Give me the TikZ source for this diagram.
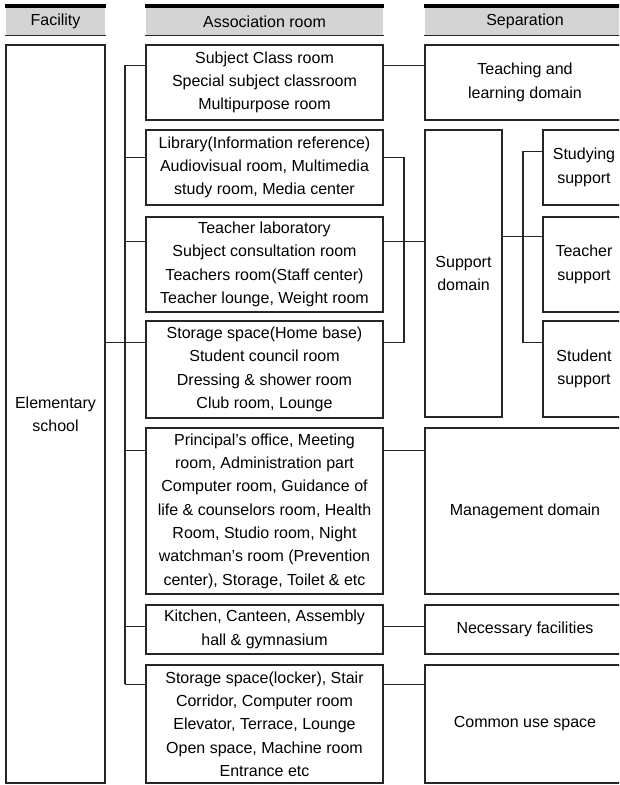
\documentclass[tikz,border=0pt]{standalone}
\usepackage{fontspec}
\setmainfont{Liberation Sans}

\begin{document}
\begin{tikzpicture}
  [x=1pt,y=-1pt,line width=1.3pt,draw=black!85,
   every node/.style={draw=black!85,align=center,inner sep=0pt,
     font=\fontsize{16}{23.3}\selectfont},
   box/.style 2 args={minimum width=#1,minimum height=#2},
   head/.style={draw=none,fill=black!17,minimum width=#1,minimum height=27}]
  \clip (0,0) rectangle (619,785);
  \fill[white] (0,0) rectangle (619,785);

  % column heads
  \node[head=99]  (h1) at (55.5,21.5)  {Facility};
  \node[head=237] (h2) at (264.5,21.5) {Association room};
  \node[head=200] (h3) at (525,21.5)   {Separation};
  \foreach \h in {h1,h2,h3} {
    \draw[line width=3.5pt,black] ([yshift=1.5pt]\h.north west) -- ([yshift=1.5pt]\h.north east);
    \draw (\h.south west) -- (\h.south east);
  }

  \node[box={99}{738}] (fac) at (55.5,414) {Elementary\\school};

  % association rooms
  \node[box={237}{75}]  (a1) at (264.5,82.5) {Subject Class room\\Special subject classroom\\Multipurpose room};
  \node[box={237}{75}]  (a2) at (264.5,167.5) {Library(Information reference)\\Audiovisual room, Multimedia\\study room, Media center};
  \node[box={237}{95}]  (a3) at (264.5,264.5) {Teacher laboratory\\Subject consultation room\\Teachers room(Staff center)\\Teacher lounge, Weight room};
  \node[box={237}{97}]  (a4) at (264.5,369.5) {Storage space(Home base)\\Student council room\\Dressing \& shower room\\Club room, Lounge};
  \node[box={237}{166}] (a5) at (264.5,511) {Principal's office, Meeting\\room, Administration part\\Computer room, Guidance of\\life \& counselors room, Health\\Room, Studio room, Night\\watchman's room (Prevention\\center), Storage, Toilet \& etc};
  \node[box={237}{49}]  (a6) at (264.5,629.5) {Kitchen, Canteen, Assembly\\hall \& gymnasium};
  \node[box={237}{118}] (a7) at (264.5,724) {Storage space(locker), Stair\\Corridor, Computer room\\Elevator, Terrace, Lounge\\Open space, Machine room\\Entrance etc};

  % separation
  \node[box={200}{75}]  (teach) at (525,82.5)  {Teaching and\\learning domain};
  \node[box={77}{287}]  (supp)  at (463.5,273.5) {Support\\domain};
  \node[box={82}{75}]   (study) at (584,167.5) {Studying\\support};
  \node[box={82}{95}]   (tsup)  at (584,264.5) {Teacher\\support};
  \node[box={82}{96}]   (ssup)  at (584,369)   {Student\\support};
  \node[box={200}{166}] (mgmt)  at (525,511)   {Management domain};
  \node[box={200}{49}]  (need)  at (525,629.5) {Necessary facilities};
  \node[box={200}{118}] (comm)  at (525,724)   {Common use space};

  % connectors
  \foreach \n/\d in {1/21,2/28,3/25,4/22,5/23,6/22,7/20}
    \coordinate (p\n) at ([yshift=-\d pt]a\n.north west);
  \coordinate (tr) at (125,0);
  \draw (p1 -| tr) -- (p7 -| tr);
  \foreach \n in {1,...,7}
    \draw (p\n) -- (p\n -| tr);
  \draw (fac.east |- p4) -- (p4 -| tr);

  \foreach \n/\to in {1/teach,3/supp,5/mgmt,6/need,7/comm}
    \draw (a\n.east |- p\n) -- (\to.west |- p\n);
  \coordinate (rb) at (404,0);
  \draw (a2.east |- p2) -| (rb |- p4) -- (a4.east |- p4);

  \coordinate (q1) at ([yshift=-22pt]study.north west);
  \coordinate (q2) at ([yshift=-20pt]tsup.north west);
  \coordinate (q3) at ([yshift=-22pt]ssup.north west);
  \coordinate (sb) at (523,0);
  \draw (q1) -| (sb |- q3) -- (q3);
  \draw (supp.east |- q2) -- (q2);

\end{tikzpicture}
\end{document}
